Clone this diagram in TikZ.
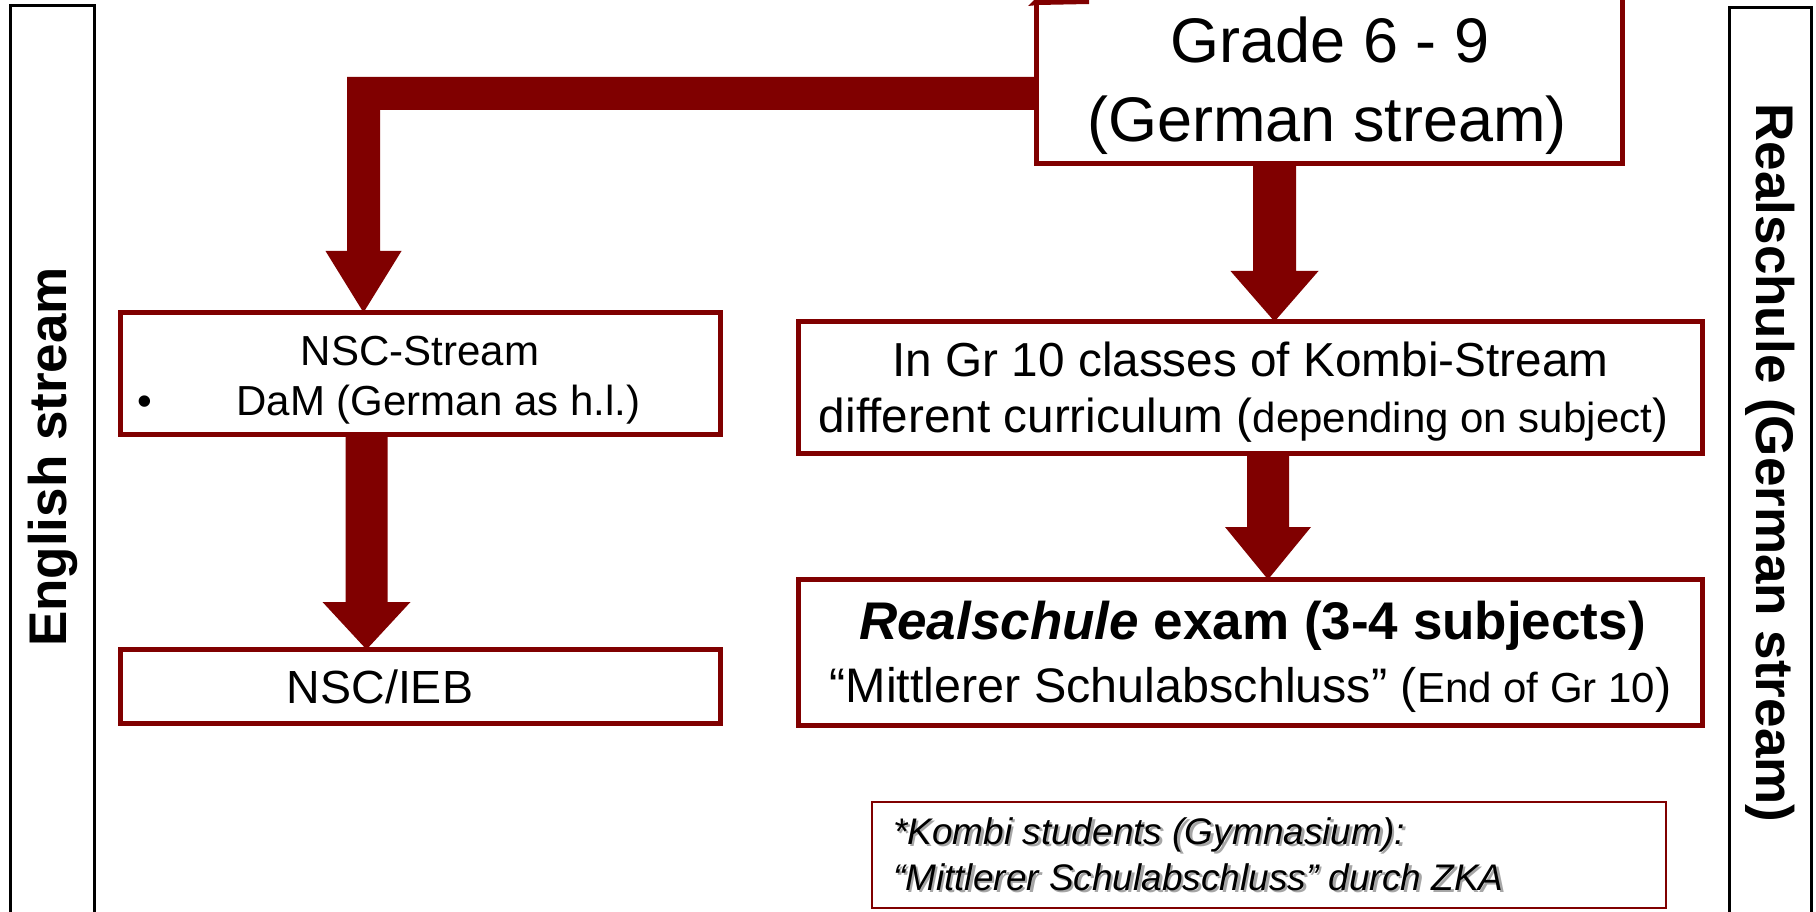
\documentclass[tikz,border=0pt]{standalone}
\usepackage{fontspec}
\setmainfont{Liberation Sans}
\usetikzlibrary{calc}
\definecolor{maroon}{RGB}{128,0,0}
\pgfdeclarelayer{bg}
\pgfsetlayers{bg,main}
% block arrow: #1 x (px), #2 start anchor, #3 tip anchor, #4 half shaft, #5 half head, #6 head length
\newcommand\blockarr[6]{%
  \fill[maroon] let \p1=(#2), \p2=(#3) in
    (#1pt-#4pt,\y1) -- (#1pt+#4pt,\y1) -- (#1pt+#4pt,\y2+#6pt) -- (#1pt+#5pt,\y2+#6pt)
    -- (#1pt,\y2) -- (#1pt-#5pt,\y2+#6pt) -- (#1pt-#4pt,\y2+#6pt) -- cycle;}
\begin{document}
\begin{tikzpicture}[x=1pt,y=-1pt,
  redbox/.style={draw=maroon, line width=5pt, fill=white, rectangle, inner sep=0pt, outer sep=0pt},
  sidebox/.style={draw=black, line width=3pt, rectangle, inner sep=0pt, outer sep=0pt},
  notebox/.style={draw=maroon, line width=1.8pt, fill=white, rectangle, inner sep=0pt, outer sep=0pt},
  lbl/.style={anchor=base, inner sep=0pt, outer sep=0pt, text=black},
  lblw/.style={anchor=base west, inner sep=0pt, outer sep=0pt}]
\useasboundingbox (0,0) rectangle (1816,912);
\clip (0,0) rectangle (1816,912);

% side boxes
\node[sidebox, minimum width=84pt, minimum height=940pt] (eng) at (52.5,476) {};
\node[sidebox, minimum width=82pt, minimum height=940pt] (real) at (1770.5,478) {};
\node[rotate=90, inner sep=0pt, font=\bfseries\fontsize{53}{60}\selectfont] (engt) at (53,457) {English stream};
\node[rotate=-90, inner sep=0pt, font=\bfseries\fontsize{53}{60}\selectfont] (realt) at (1770,463) {Realschule (German stream)};

% red boxes
\node[redbox, minimum width=586pt, minimum height=184pt] (grade) at (1329.5,71.75) {};
\node[redbox, minimum width=600pt, minimum height=122pt] (nsc) at (420.5,373.5) {};
\node[redbox, minimum width=600pt, minimum height=74pt] (ieb) at (420.5,686.5) {};
\node[redbox, minimum width=904pt, minimum height=132pt] (kombi) at (1250.5,387.5) {};
\node[redbox, minimum width=904pt, minimum height=146pt] (exam) at (1250.5,652.5) {};
\node[notebox, minimum width=794pt, minimum height=106pt] (note) at (1269,855) {};

% cut-off shape at the top of the grade box
\fill[maroon] (1028,6) -- (1034,0) -- (1089,0) -- (1089,4) -- (1038,5) -- cycle;

% texts
\node[lbl, font=\fontsize{63}{75}\selectfont] (g1) at (1330,63) {Grade 6 - 9};
\node[lbl, font=\fontsize{63}{75}\selectfont] (g2) at (1327,142) {(German stream)};
\node[lbl, font=\fontsize{42}{50}\selectfont] (n1) at (420,365) {NSC-Stream};
\node[lbl, font=\fontsize{42}{50}\selectfont] (n2b) at (145,415) {•};
\node[lbl, font=\fontsize{42}{50}\selectfont] (n2) at (438.5,415) {DaM (German as h.l.)};
\node[lbl, font=\fontsize{46.5}{55}\selectfont] (i1) at (380,703) {NSC/IEB};
\node[lbl, font=\fontsize{47.7}{56}\selectfont] (k1) at (1250.5,376) {In Gr 10 classes of Kombi-Stream};
\node[lbl, font=\fontsize{47.7}{56}\selectfont] (k2) at (1243.5,432) {different curriculum ({\fontsize{42}{50}\selectfont depending on subject})};
\node[lbl, font=\bfseries\fontsize{53}{62}\selectfont] (e1) at (1252.5,639) {\textit{Realschule} exam (3-4 subjects)};
\node[lbl, font=\fontsize{48.5}{57}\selectfont] (e2) at (1250.5,702) {“Mittlerer Schulabschluss” ({\fontsize{42}{50}\selectfont End of Gr 10})};

% footnote with shadow
\node[lblw, text=black!35, font=\itshape\fontsize{37}{44}\selectfont] (f1s) at (895.5,846.5) {*Kombi students (Gymnasium):};
\node[lblw, text=black!35, font=\itshape\fontsize{37}{44}\selectfont] (f2s) at (895.5,892.5) {“Mittlerer Schulabschluss” durch ZKA};
\node[lblw, font=\itshape\fontsize{37}{44}\selectfont] (f1) at (893,844) {*Kombi students (Gymnasium):};
\node[lblw, font=\itshape\fontsize{37}{44}\selectfont] (f2) at (893,890) {“Mittlerer Schulabschluss” durch ZKA};

% arrows (behind the boxes)
\begin{pgfonlayer}{bg}
\fill[white] (0,0) rectangle (1816,912);
\fill[maroon] let \p1=(grade.west), \p2=(nsc.north) in
  (\x1,-77pt) -- (347pt,-77pt) -- (347pt,\y2+61.5pt) -- (325.5pt,\y2+61.5pt)
  -- (363.5pt,\y2) -- (401.5pt,\y2+61.5pt) -- (380pt,\y2+61.5pt) -- (380pt,-110pt)
  -- (\x1,-110pt) -- cycle;
\blockarr{1274.5}{grade.south}{kombi.north}{21.5}{44}{50.5}
\blockarr{1268}{kombi.south}{exam.north}{21}{43}{52.5}
\blockarr{366.5}{nsc.south}{ieb.north}{21}{44}{47.5}
\end{pgfonlayer}
\end{tikzpicture}
\end{document}
